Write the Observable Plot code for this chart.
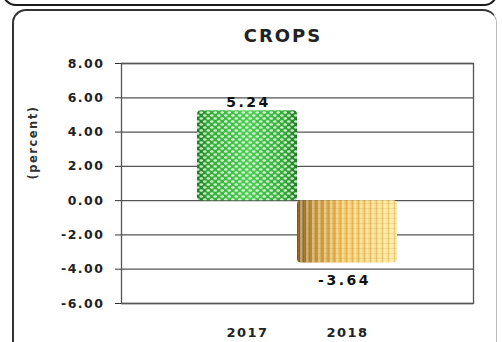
<!DOCTYPE html>
<html>
<head>
<meta charset="utf-8">
<script src="https://cdn.jsdelivr.net/npm/d3@7"></script>
<script src="https://cdn.jsdelivr.net/npm/@observablehq/plot@0.6"></script>
<style>
  html, body { margin: 0; padding: 0; background: #fff; }
  body { width: 502px; height: 342px; overflow: hidden; position: relative; font-family: "DejaVu Sans", sans-serif; }
  .prev { position: absolute; left: 2px; top: -40px; width: 492px; height: 42px; border: 2.5px solid #1a1a1a; border-radius: 14px; }
  .panel { position: absolute; left: 12px; top: 9px; width: 482px; height: 400px; border: 2.5px solid #333; border-right: 1.5px solid #bbb; border-radius: 14px; }
  .title { position: absolute; left: 0; top: 25px; width: 566px; text-align: center; font: bold 18px "DejaVu Sans", sans-serif; letter-spacing: 2px; color: #222; }
  #chart { position: absolute; left: 0; top: 0; }
</style>
</head>
<body>
<div class="prev"></div>
<div class="panel"></div>
<div class="title">CROPS</div>
<div id="chart"></div>
<script>
const years = ["2017", "2018"];
const values = [5.24, -3.64];
const yTicks = [-6, -4, -2, 0, 2, 4, 6, 8];
const yLabel = "(percent)";

const data = years.map((year, i) => ({year, value: values[i]}));
const pos = data.filter(d => d.value >= 0);
const neg = data.filter(d => d.value < 0);

const plot = Plot.plot({
  width: 502,
  height: 342,
  marginTop: 63,
  marginBottom: 39,
  marginLeft: 121,
  marginRight: 29,
  style: {fontFamily: "DejaVu Sans, sans-serif", background: "transparent", color: "#222"},
  x: {type: "band", domain: years, range: [197, 397], padding: 0},
  y: {domain: [-6, 8]},
  marks: [
    Plot.ruleY(yTicks, {stroke: "#555", strokeWidth: 1.3}),
    Plot.frame({stroke: "#555", strokeWidth: 1.3}),
    Plot.barY(data.filter(d => d.year === "2017"), {x: "year", y: "value", fill: "url(#gradG)", rx: 4}),
    Plot.barY(data.filter(d => d.year === "2017"), {x: "year", y: "value", fill: "url(#patG)", rx: 4}),
    Plot.barY(data.filter(d => d.year === "2018"), {x: "year", y: "value", fill: "url(#gradO)", rx: 4}),
    Plot.barY(data.filter(d => d.year === "2018"), {x: "year", y: "value", fill: "url(#patO)", rx: 4}),
    Plot.text(pos, {x: "year", y: "value", text: d => d.value.toFixed(2), dy: -8, dx: 1,
      fontSize: 14, fontWeight: "bold", fill: "#111", className: "vlab"}),
    Plot.text(neg, {x: "year", y: "value", text: d => d.value.toFixed(2), dy: 17, dx: -3,
      fontSize: 14, fontWeight: "bold", fill: "#111", className: "vlab"}),
    Plot.axisY({ticks: yTicks, tickFormat: d => d.toFixed(2), tickSize: 6, tickPadding: 11, fontSize: 12.5, fontWeight: "bold", stroke: "#333", label: null}),
    Plot.axisX({tickSize: 0, tickPadding: 24, fontSize: 13, fontWeight: "bold", label: null}),
    Plot.text([yLabel], {frameAnchor: "left", dx: -88, dy: -4, rotate: -90, fontSize: 11.5, fontWeight: "bold", fill: "#333", className: "ylab"})
  ]
});

const svg = d3.select(plot);
svg.insert("defs", ":first-child").html(`
  <linearGradient id="gradG" x1="0" x2="1" y1="0" y2="0">
    <stop offset="0" stop-color="#237a27"/>
    <stop offset="0.12" stop-color="#36a83a"/>
    <stop offset="0.5" stop-color="#52cc56"/>
    <stop offset="0.88" stop-color="#36a83a"/>
    <stop offset="1" stop-color="#237a27"/>
  </linearGradient>
  <pattern id="patG" patternUnits="userSpaceOnUse" width="7" height="6">
    <ellipse cx="1.75" cy="1.5" rx="1.9" ry="1.2" fill="rgba(225,255,225,0.85)"/>
    <ellipse cx="5.25" cy="4.5" rx="1.9" ry="1.2" fill="rgba(225,255,225,0.85)"/>
  </pattern>
  <linearGradient id="gradO" x1="0" x2="1" y1="0" y2="0">
    <stop offset="0" stop-color="#6e5228"/>
    <stop offset="0.15" stop-color="#b88a3e"/>
    <stop offset="0.45" stop-color="#f0c260"/>
    <stop offset="1" stop-color="#ffeaa0"/>
  </linearGradient>
  <pattern id="patO" patternUnits="userSpaceOnUse" width="6" height="5">
    <rect x="0" y="0" width="2.5" height="5" fill="rgba(255,250,200,0.45)"/>
    <rect x="4" y="0" width="1" height="5" fill="rgba(220,140,40,0.35)"/>
    <rect x="0" y="3" width="6" height="1" fill="rgba(180,120,40,0.15)"/>
  </pattern>
`);
svg.selectAll("text").style("letter-spacing", "1.5px");
svg.selectAll(".vlab text").style("letter-spacing", "2.5px");
svg.selectAll(".ylab text").style("letter-spacing", "1.5px");
document.getElementById("chart").appendChild(plot);
</script>
</body>
</html>
